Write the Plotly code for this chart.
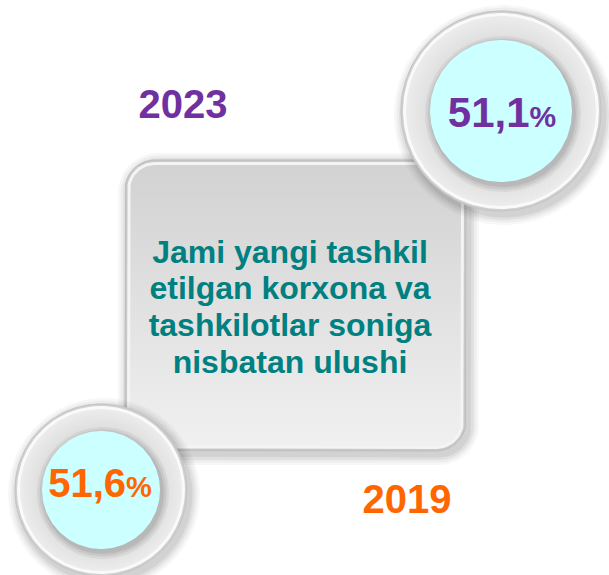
import numpy as np
import plotly.graph_objects as go

# ---- data ----
years = ["2023", "2019"]
shares = [51.1, 51.6]
share_colors = ["#7030A0", "#FF6600"]
title_lines = ["Jami yangi tashkil", "etilgan korxona va",
               "tashkilotlar soniga", "nisbatan ulushi"]

W, H = 609, 575
fig = go.Figure()

def circle_pts(cx, cy, r, n=160):
    t = np.linspace(0, 2 * np.pi, n)
    return cx + r * np.cos(t), cy + r * np.sin(t)

def rrect_pts(x0, y0, x1, y1, r, n=16):
    xs, ys = [], []
    corners = [(x1 - r, y0 + r, -np.pi / 2, 0), (x1 - r, y1 - r, 0, np.pi / 2),
               (x0 + r, y1 - r, np.pi / 2, np.pi), (x0 + r, y0 + r, np.pi, 1.5 * np.pi)]
    for cx, cy, a0, a1 in corners:
        t = np.linspace(a0, a1, n)
        xs += list(cx + r * np.cos(t)); ys += list(cy + r * np.sin(t))
    xs.append(xs[0]); ys.append(ys[0])
    return xs, ys

def poly(xs, ys, fill=None, line=None, lw=0, grad=None):
    kw = dict(x=xs, y=ys, mode="lines", hoverinfo="skip", showlegend=False)
    if fill is not None or grad is not None:
        kw["fill"] = "toself"
        if fill is not None:
            kw["fillcolor"] = fill
        if grad is not None:
            kw["fillgradient"] = grad
    kw["line"] = dict(color=line if line else "rgba(0,0,0,0)", width=lw)
    fig.add_trace(go.Scatter(**kw))

# ---- central box ----
bx0, by0, bx1, by1, br = 125, 160, 466, 451, 30
for i, a in enumerate([0.03, 0.04, 0.05, 0.06]):
    d = 10 - 2.5 * i
    xs, ys = rrect_pts(bx0 - d + 3, by0 - d + 3, bx1 + d + 3, by1 + d + 4, br + d)
    poly(xs, ys, fill=f"rgba(0,0,0,{a})")
xs, ys = rrect_pts(bx0, by0, bx1, by1, br)
poly(xs, ys, fill="#c9c9c9", line="#bdbdbd", lw=1)
xs, ys = rrect_pts(bx0 + 2, by0 + 2, bx1 - 2, by1 - 2, br - 2)
poly(xs, ys, fill="#f4f4f4")
xs, ys = rrect_pts(bx0 + 5, by0 + 5, bx1 - 5, by1 - 5, br - 5)
poly(xs, ys, grad=dict(type="vertical",
                       colorscale=[[0, "#f0f0f0"], [1, "#d2d2d2"]]))

# ---- circles ----
def badge(cx, cy, R, r):
    for i, a in enumerate([0.03, 0.04, 0.05, 0.06]):
        d = 10 - 2.5 * i
        xs, ys = circle_pts(cx + 3, cy + 4, R + d)
        poly(xs, ys, fill=f"rgba(0,0,0,{a})")
    xs, ys = circle_pts(cx, cy, R)
    poly(xs, ys, fill="#d0d0d0", line="#c4c4c4", lw=1)
    xs, ys = circle_pts(cx, cy, R - 2)
    poly(xs, ys, fill="#fafafa")
    xs, ys = circle_pts(cx, cy, R - 5)
    poly(xs, ys, grad=dict(type="radial",
                           colorscale=[[0, "#cfcfcf"], [0.6, "#d6d6d6"], [1, "#ececec"]]))
    for i, a in enumerate([0.05, 0.06, 0.07]):
        d = 7 - 2.5 * i
        xs, ys = circle_pts(cx + 2, cy + 3, r + d)
        poly(xs, ys, fill=f"rgba(0,0,0,{a})")
    xs, ys = circle_pts(cx, cy, r)
    poly(xs, ys, fill="#CCFFFF")

badge(501, 111, 100, 71)
badge(101, 490, 86, 59)

# ---- texts ----
FONT = "Liberation Sans, Arial, sans-serif"
fig.add_trace(go.Scatter(
    x=[183, 407], y=[108, 503], mode="text", text=years,
    textfont=dict(family=FONT, size=40, color=share_colors, weight="bold"),
    hoverinfo="skip", showlegend=False))

share_txt = []
for v, fs, ps in zip(shares, [42, 40], [30, 29]):
    s = f"{v:.1f}".replace(".", ",")
    share_txt.append(f"{s}<span style='font-size:{ps}px'>%</span>")
fig.add_trace(go.Scatter(
    x=[502, 100], y=[116, 487], mode="text", text=share_txt,
    textfont=dict(family=FONT, size=[42, 40], color=share_colors, weight="bold"),
    hoverinfo="skip", showlegend=False))

fig.add_trace(go.Scatter(
    x=[290] * len(title_lines), y=[255, 291, 328, 365], mode="text",
    text=title_lines,
    textfont=dict(family=FONT, size=32, color="#008080", weight="bold"),
    hoverinfo="skip", showlegend=False))

fig.update_layout(
    width=W, height=H, margin=dict(l=0, r=0, t=0, b=0),
    paper_bgcolor="white", plot_bgcolor="white",
    xaxis=dict(range=[0, W], visible=False, fixedrange=True),
    yaxis=dict(range=[H, 0], visible=False, fixedrange=True),
)
fig.write_html("out.html", config={"displayModeBar": False},
               post_script="document.body.style.margin='0';")
